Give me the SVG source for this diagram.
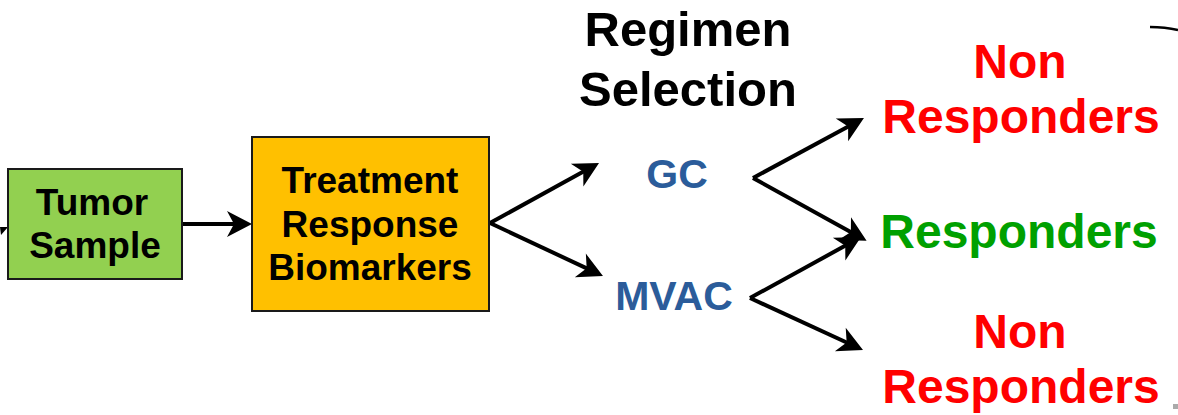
<svg xmlns="http://www.w3.org/2000/svg" width="1178" height="415" viewBox="0 0 1178 415">
<style>
text{font-family:"Liberation Sans",Arial,Helvetica,sans-serif;font-weight:bold;text-anchor:middle}
.box{stroke:#1a1a1a;stroke-width:2}
.lbl{font-size:37px;fill:#000}
.drug{font-size:41px;fill:#2B5C9A}
.title{font-size:49px;fill:#000}
.out{font-size:48px}
.conn{stroke:#000;stroke-width:4;fill:none;marker-end:url(#ah)}
</style>
<defs>
<marker id="ah" markerUnits="userSpaceOnUse" viewBox="-15 -15 30 30" markerWidth="30" markerHeight="30" refX="0" refY="0" orient="auto">
<path d="M-13,-13 L12,0 L-13,13 L-6,0 Z" fill="#000"/>
</marker>
</defs>
<rect width="1178" height="415" fill="#fff"/>
<g id="connectors">
<polygon points="0,227 8,227 1,235" fill="#000"/>
<line class="conn" x1="183" y1="224" x2="240" y2="224"/>
<line class="conn" x1="490" y1="223" x2="588.5" y2="168.8"/>
<line class="conn" x1="490" y1="223" x2="592.1" y2="270.9"/>
<line class="conn" x1="753" y1="178" x2="853.4" y2="123.7"/>
<line class="conn" x1="753" y1="178" x2="856.1" y2="235"/>
<line class="conn" x1="750" y1="298" x2="850.5" y2="242.8"/>
<line class="conn" x1="750" y1="298" x2="852.1" y2="345"/>
<path d="M1150,27 Q1165,27 1178,30" stroke="#000" stroke-width="2.5" fill="none"/>
<rect x="1173" y="404" width="5" height="5" fill="#aaa"/>
</g>
<g id="tumor">
<rect class="box" x="8" y="169" width="174" height="110" fill="#92D050"/>
<text class="lbl" x="92" y="215">Tumor</text>
<text class="lbl" x="95" y="258">Sample</text>
</g>
<g id="biomarkers">
<rect class="box" x="252" y="137" width="237" height="174" fill="#FFC000"/>
<text class="lbl" x="370" y="193">Treatment</text>
<text class="lbl" x="370" y="237">Response</text>
<text class="lbl" x="370" y="280">Biomarkers</text>
</g>
<g id="regimen">
<text class="title" x="688" y="46">Regimen</text>
<text class="title" x="688" y="106">Selection</text>
</g>
<g id="gc"><text class="drug" x="677" y="188">GC</text></g>
<g id="mvac"><text class="drug" x="674" y="310">MVAC</text></g>
<g id="nonresp1">
<text class="out" x="1020" y="78" fill="#FF0000">Non</text>
<text class="out" x="1021" y="133" fill="#FF0000">Responders</text>
</g>
<g id="resp">
<text class="out" x="1019" y="248" fill="#00A000">Responders</text>
</g>
<g id="nonresp2">
<text class="out" x="1020" y="348" fill="#FF0000">Non</text>
<text class="out" x="1021" y="403" fill="#FF0000">Responders</text>
</g>
</svg>
